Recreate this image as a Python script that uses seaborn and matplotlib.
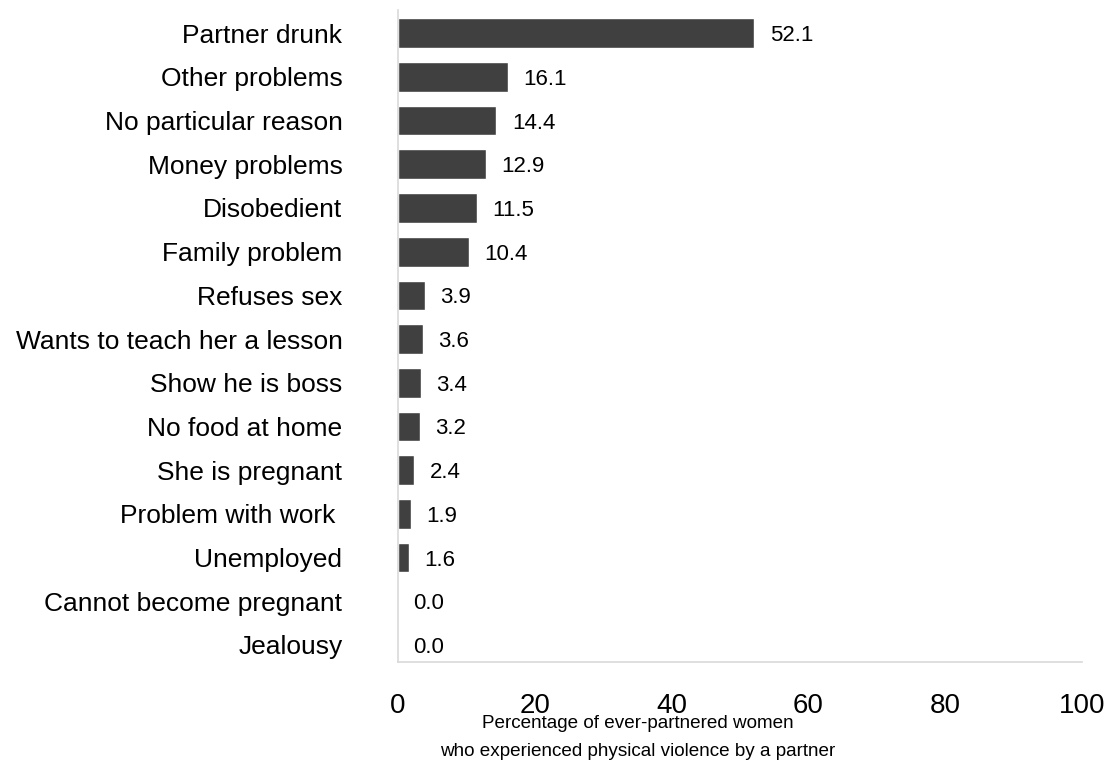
import matplotlib
matplotlib.use("Agg")
import matplotlib.pyplot as plt
import seaborn as sns
import pandas as pd

reasons = [
    "Partner drunk", "Other problems", "No particular reason", "Money problems",
    "Disobedient", "Family problem", "Refuses sex", "Wants to teach her a lesson",
    "Show he is boss", "No food at home", "She is pregnant", "Problem with work ",
    "Unemployed", "Cannot become pregnant", "Jealousy",
]
percentages = [52.1, 16.1, 14.4, 12.9, 11.5, 10.4, 3.9, 3.6, 3.4, 3.2, 2.4, 1.9, 1.6, 0.0, 0.0]
x_ticks = [0, 20, 40, 60, 80, 100]

df = pd.DataFrame({"reason": reasons, "pct": percentages})

sns.set_theme(style="white")
plt.rcParams["font.family"] = ["Liberation Sans", "DejaVu Sans"]

fig = plt.figure(figsize=(11.17, 7.66), dpi=100)
ax = fig.add_axes([398 / 1117, 1 - 662 / 766, 684 / 1117, 652 / 766])

sns.barplot(data=df, x="pct", y="reason", orient="h", color="#404040",
            saturation=1, width=0.68, ax=ax)

for i, v in enumerate(percentages):
    ax.annotate(f"{v:.1f}", xy=(v, i), xytext=(11, 0), textcoords="offset points",
                va="center_baseline", ha="left", fontsize=16, color="#000000")

ax.set_xlim(0, 100)
ax.set_ylim(14.39, -0.53)
ax.set_xticks(x_ticks)
ax.set_xticklabels([str(t) for t in x_ticks], fontsize=20)
ax.tick_params(axis="x", length=0, pad=22)
ax.tick_params(axis="y", length=0, pad=40, labelsize=19)
for lbl in ax.get_yticklabels():
    lbl.set_color("#000000")
for lbl in ax.get_xticklabels():
    lbl.set_color("#000000")

for side in ["top", "right"]:
    ax.spines[side].set_visible(False)
for side in ["left", "bottom"]:
    ax.spines[side].set_color("#d9d9d9")
    ax.spines[side].set_linewidth(1.2)

ax.set_ylabel("")
ax.set_xlabel("Percentage of ever-partnered women\nwho experienced physical violence by a partner",
              fontsize=13.6, linespacing=1.8, color="#000000")
ax.xaxis.set_label_coords(240 / 684, -0.082)

fig.savefig("out.png", dpi=100)
